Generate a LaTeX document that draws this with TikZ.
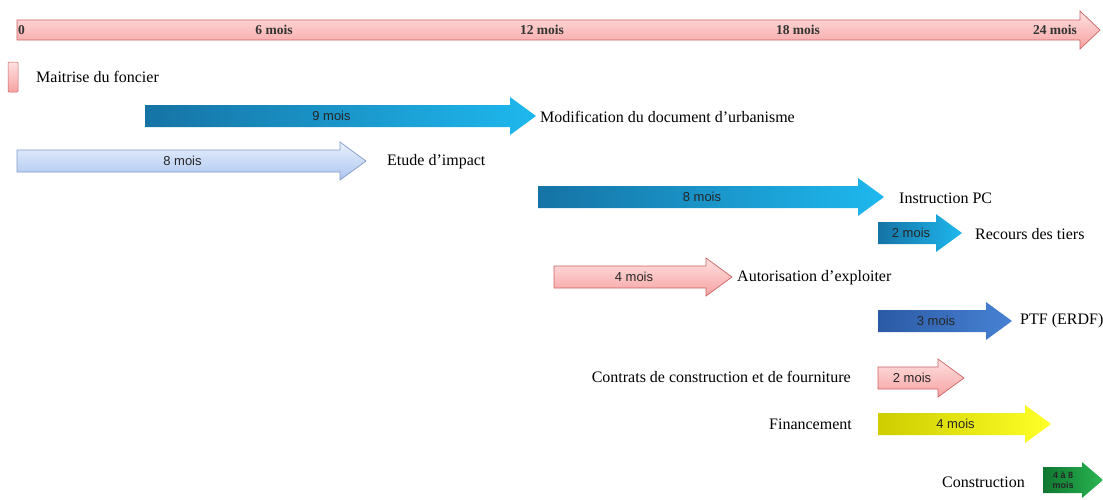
\documentclass[tikz,border=0pt]{standalone}
\usepackage{fontspec}
\setmainfont{Liberation Serif}
\newfontfamily\sansfleche{Liberation Sans}
\usetikzlibrary{positioning}

\definecolor{roseH}{RGB}{255,224,224}
\definecolor{roseB}{RGB}{246,162,162}
\definecolor{roseT}{RGB}{205,100,100}
\definecolor{cielH}{RGB}{232,240,252}
\definecolor{cielB}{RGB}{172,198,240}
\definecolor{cielT}{RGB}{130,155,200}
\definecolor{bleuG}{RGB}{22,115,165}
\definecolor{bleuD}{RGB}{30,184,238}
\definecolor{roiG}{RGB}{42,90,165}
\definecolor{roiD}{RGB}{72,130,212}
\definecolor{jauneG}{RGB}{205,205,0}
\definecolor{jauneD}{RGB}{255,255,40}
\definecolor{vertG}{RGB}{16,118,48}
\definecolor{vertD}{RGB}{40,182,82}

\tikzset{
  fRose/.style={top color=roseH,bottom color=roseB,draw=roseT,line width=0.7pt},
  fCiel/.style={top color=cielH,bottom color=cielB,draw=cielT,line width=0.7pt},
  fBleu/.style={left color=bleuG,right color=bleuD,draw=none},
  fRoi/.style={left color=roiG,right color=roiD,draw=none},
  fJaune/.style={left color=jauneG,right color=jauneD,draw=none},
  fVert/.style={left color=vertG,right color=vertD,draw=none},
  duree/.style={font=\sansfleche\fontsize{13}{14}\selectfont,inner sep=0pt,text=black!85},
  etiq/.style={font=\fontsize{16}{18}\selectfont,inner sep=0pt},
  graduation/.style={font=\bfseries\fontsize{13.5}{14}\selectfont,inner sep=0pt,text=black!80},
}

% fleche : style, debut, base de la pointe, y, nom, duree
\newcommand{\fleche}[6]{%
  \draw[#1] (#2,#4-11) -- (#3,#4-11) -- (#3,#4-19) -- (#3+26,#4) -- (#3,#4+19) -- (#3,#4+11) -- (#2,#4+11) -- cycle;
  \node[duree] (#5) at ({(#2+#3)/2+4},#4) {#6};
}

\begin{document}
\begin{tikzpicture}[x=1pt,y=1pt,yscale=-1,xscale=1]
\useasboundingbox (0,0) rectangle (1103,499);

% axe du temps
\draw[fRose] (17,20) -- (1080,20) -- (1080,11) -- (1100,30) -- (1080,49) -- (1080,40) -- (17,40) -- cycle;
\node[graduation,anchor=west] (m0) at (18,30) {0};
\node[graduation] (m6) at (274,30) {6 mois};
\node[graduation] (m12) at (542,30) {12 mois};
\node[graduation] (m18) at (798,30) {18 mois};
\node[graduation] (m24) at (1055,30) {24 mois};

% taches
\draw[fRose,line width=0.5pt,rounded corners=1pt] (8,62) rectangle (18,92);
\node[etiq,anchor=west] (tFoncier) at (36,77) {Maitrise du foncier};

\fleche{fBleu}{145}{510}{116}{dModif}{9 mois}
\node[etiq,anchor=west] (tModif) at (540,117) {Modification du document d’urbanisme};

\fleche{fCiel}{17}{340}{161}{dEtude}{8 mois}
\node[etiq,anchor=west] (tEtude) at (387,162) {Etude d’impact};

\fleche{fBleu}{538}{858}{197}{dInstr}{8 mois}
\node[etiq,anchor=west] (tInstr) at (899,198) {Instruction PC};

\fleche{fBleu}{878}{936}{233}{dRecours}{2 mois}
\node[etiq,anchor=west] (tRecours) at (975,234) {Recours des tiers};

\fleche{fRose}{554}{706}{277}{dAutor}{4 mois}
\node[etiq,anchor=west] (tAutor) at (737,278) {Autorisation d’exploiter};

\fleche{fRoi}{878}{986}{321}{dPtf}{3 mois}
\node[etiq,anchor=west] (tPtf) at (1020,321) {PTF (ERDF)};

\fleche{fRose}{878}{938}{378}{dContrats}{2 mois}
\node[etiq,anchor=east] (tContrats) at (851,377) {Contrats de construction et de fourniture};

\fleche{fJaune}{878}{1025}{424}{dFinanc}{4 mois}
\node[etiq,anchor=east] (tFinanc) at (852,424) {Financement};

\draw[fVert] (1043,467) -- (1082,467) -- (1082,462) -- (1103,480) -- (1082,498) -- (1082,493) -- (1043,493) -- cycle;
\node[duree,font=\sansfleche\bfseries\fontsize{9}{9.5}\selectfont,align=center] (dConstr) at (1063,480) {4 à 8\\mois};
\node[etiq,anchor=east] (tConstr) at (1025,482) {Construction};
\end{tikzpicture}
\end{document}
